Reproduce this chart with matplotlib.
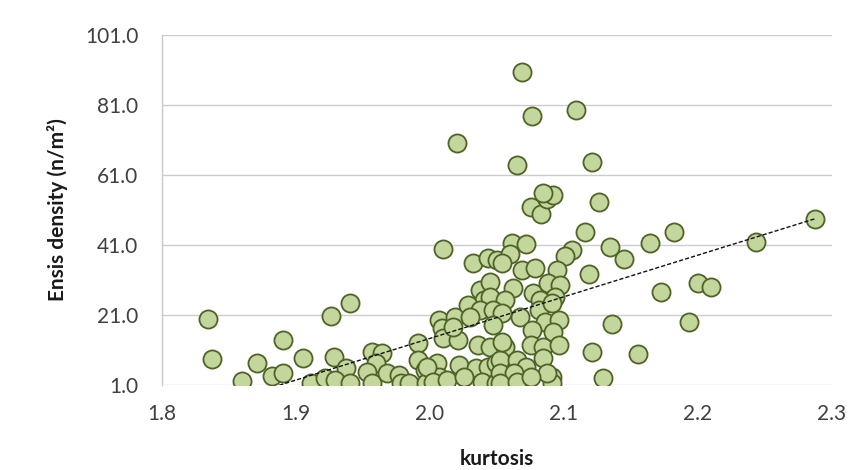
import matplotlib
matplotlib.use("Agg")
import matplotlib.pyplot as plt
from matplotlib.ticker import FixedLocator, FormatStrFormatter

plt.rcParams['font.family'] = ['Lato', 'DejaVu Sans']

kurtosis = [
    2.069, 2.109, 2.076, 2.020, 2.065, 2.121, 2.126, 2.075, 2.083, 2.087,
    2.092, 2.084, 2.116, 2.182, 2.287, 2.243, 2.164, 2.145, 2.134, 2.106,
    2.101, 2.119, 2.172, 2.200, 2.210, 2.193, 2.136, 2.121, 2.155, 2.129,
    2.091, 2.091, 2.010, 2.061, 2.072,
    1.834, 1.837, 1.860, 1.871, 1.882, 1.890, 1.890, 1.905, 1.911, 1.922,
    1.926, 1.940, 1.928, 1.937, 1.929, 1.940, 1.957, 1.964, 1.960, 1.953,
    1.957, 1.968, 1.977, 1.978, 1.984, 1.991, 1.991, 1.996, 1.997, 2.005,
    2.007, 2.009, 2.010, 2.011, 2.007, 2.019, 2.021, 2.022, 2.032, 2.043,
    2.050, 2.037, 2.045, 2.040, 2.045, 2.028, 2.037, 2.030, 2.017, 2.036,
    2.045, 1.998, 2.034, 2.043, 2.049, 2.002, 2.013, 2.025, 2.039, 2.049,
    2.060, 2.054, 2.069, 2.078, 2.095, 2.062, 2.077, 2.088, 2.097, 2.093,
    2.056, 2.082, 2.047, 2.081, 2.067, 2.054, 2.086, 2.096, 2.047, 2.076,
    2.092, 2.056, 2.075, 2.084, 2.096, 2.052, 2.065, 2.084, 2.072, 2.087,
    2.052, 2.063, 2.052, 2.065, 2.075, 2.054, 2.091,
]
density = [
    90.4, 79.6, 77.9, 70.1, 63.9, 64.7, 53.3, 51.9, 49.9, 54.1,
    55.3, 55.9, 44.7, 44.7, 48.4, 41.9, 41.6, 37.0, 40.4, 39.6,
    37.9, 32.7, 27.6, 30.1, 29.0, 19.0, 18.4, 10.4, 9.9, 3.0,
    3.3, 1.6, 39.9, 41.6, 41.3,
    19.9, 8.4, 2.1, 7.3, 3.6, 4.4, 13.9, 8.7, 1.6, 3.0,
    20.7, 24.4, 9.0, 5.9, 2.4, 1.6, 10.4, 10.1, 7.3, 4.7,
    1.6, 4.4, 3.9, 1.6, 1.6, 13.0, 8.1, 5.3, 1.6, 7.3,
    19.6, 17.3, 14.4, 1.9, 3.3, 20.4, 13.9, 6.7, 35.9, 37.3,
    36.7, 28.1, 30.4, 25.3, 26.1, 23.9, 22.4, 20.4, 17.6, 12.4,
    11.9, 6.1, 5.9, 6.1, 7.3, 1.9, 2.4, 3.3, 1.9, 1.6,
    38.4, 35.9, 33.9, 34.4, 33.9, 28.7, 27.3, 30.1, 29.6, 26.1,
    25.3, 25.3, 22.4, 22.4, 20.4, 21.6, 19.0, 19.6, 18.1, 16.7,
    16.1, 11.9, 12.4, 11.9, 12.4, 8.1, 8.1, 8.7, 6.1, 4.4,
    4.4, 4.4, 1.6, 1.9, 3.3, 13.3, 24.4,
]

# linear trendline: y = slope * x + intercept
trend_slope = 119.0
trend_intercept = -223.7

x_ticks = [1.8, 1.9, 2.0, 2.1, 2.2, 2.3]
y_ticks = [1.0, 21.0, 41.0, 61.0, 81.0, 101.0]

fig = plt.figure(figsize=(8.64, 4.70), dpi=100)
ax = fig.add_axes([0.1875, 0.181, 0.7755, 0.7445])

ax.scatter(kurtosis, density, s=170, facecolor='#c3d69b', edgecolor='#4f6228',
           linewidth=1.3, zorder=3)

tx = [min(kurtosis), max(kurtosis)]
ty = [trend_slope * v + trend_intercept for v in tx]
ax.plot(tx, ty, linestyle=(0, (3, 1.5)), color='#111111', linewidth=1.0, zorder=4)

ax.set_xlim(1.8, 2.3)
ax.set_ylim(1.0, 101.0)
ax.xaxis.set_major_locator(FixedLocator(x_ticks))
ax.yaxis.set_major_locator(FixedLocator(y_ticks))
ax.xaxis.set_major_formatter(FormatStrFormatter('%.1f'))
ax.yaxis.set_major_formatter(FormatStrFormatter('%.1f'))
ax.grid(axis='y', color='#cccccc', linewidth=1.0, zorder=0)
ax.set_axisbelow(True)
for side in ['top', 'right', 'bottom']:
    ax.spines[side].set_visible(False)
ax.spines['left'].set_color('#c8c8c8')
ax.spines['left'].set_linewidth(1.0)
ax.tick_params(axis='both', length=0, labelsize=15, labelcolor='#404040')
ax.tick_params(axis='x', pad=14)
ax.tick_params(axis='y', pad=17)

ax.set_xlabel('kurtosis', fontsize=15, fontweight='bold', color='#1a1a1a', labelpad=18)
ax.set_ylabel('Ensis density (n/m²)', fontsize=15, fontweight='bold',
              color='#1a1a1a', labelpad=12)

fig.savefig('out.png', dpi=100, facecolor='white')
